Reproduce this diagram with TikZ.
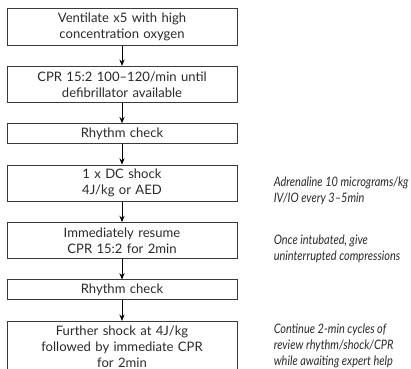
\documentclass[tikz,border=0pt]{standalone}
\usepackage{fontspec}
\setmainfont{Lato}
\newfontfamily\notefont[FakeStretch=0.84, Ligatures=TeX]{Lato}
\usepackage{tikz}
\usetikzlibrary{arrows.meta, positioning}
\usepackage{xcolor}
\definecolor{boxstr}{HTML}{3A3A3A}
\definecolor{txt}{HTML}{2A2A2A}
\tikzset{
  stepbox/.style ={rectangle, draw=boxstr, line width=0.7pt, text width=5.5cm,
                   minimum width=5.75cm, minimum height=0.9cm, align=center,
                   inner sep=0.1cm, text=txt, font=\fontsize{9.3}{11.4}\selectfont},
  checkbox/.style={stepbox, minimum height=0.5cm},
  note/.style    ={anchor=west, align=left, text=txt, inner sep=0pt,
                   font=\notefont\fontsize{9.3}{11.4}\selectfont\itshape},
  flow/.style    ={-{Stealth[length=1.6mm, width=1.3mm]}, line width=0.7pt},
}
\begin{document}
\begin{tikzpicture}[node distance=0.51cm]
    \useasboundingbox (0,0) rectangle (10.275,-9.2);
    \node[stepbox] (vent) at (3.05,-0.675) {Ventilate x5 with high\\concentration oxygen};
    \node[stepbox, below=of vent] (cpr) {CPR 15:2 100--120/min until\\defibrillator available};
    \node[checkbox, below=of cpr] (check1) {Rhythm check};
    \node[stepbox, below=of check1] (dc) {1 x DC shock\\4J/kg or AED};
    \node[stepbox, below=of dc] (resume) {Immediately resume\\CPR 15:2 for 2min};
    \node[checkbox, below=of resume] (check2) {Rhythm check};
    \node[stepbox, below=of check2] (further) {Further shock at 4J/kg\\followed by immediate CPR\\for 2min};

    \node[note, right=0.9cm of dc, yshift=-0.2cm] (adren) {Adrenaline 10 micrograms/kg\\IV/IO every 3--5min};
    \node[note, right=0.9cm of resume, yshift=-0.2cm] (intub) {Once intubated, give\\uninterrupted compressions};
    \node[note, right=0.9cm of further, yshift=0.02cm] (cont) {Continue 2-min cycles of\\review rhythm/shock/CPR\\while awaiting expert help};

    \draw[flow] (vent) -- (cpr);
    \draw[flow] (cpr) -- (check1);
    \draw[flow] (check1) -- (dc);
    \draw[flow] (dc) -- (resume);
    \draw[flow] (resume) -- (check2);
    \draw[flow] (check2) -- (further);
  \end{tikzpicture}
\end{document}
